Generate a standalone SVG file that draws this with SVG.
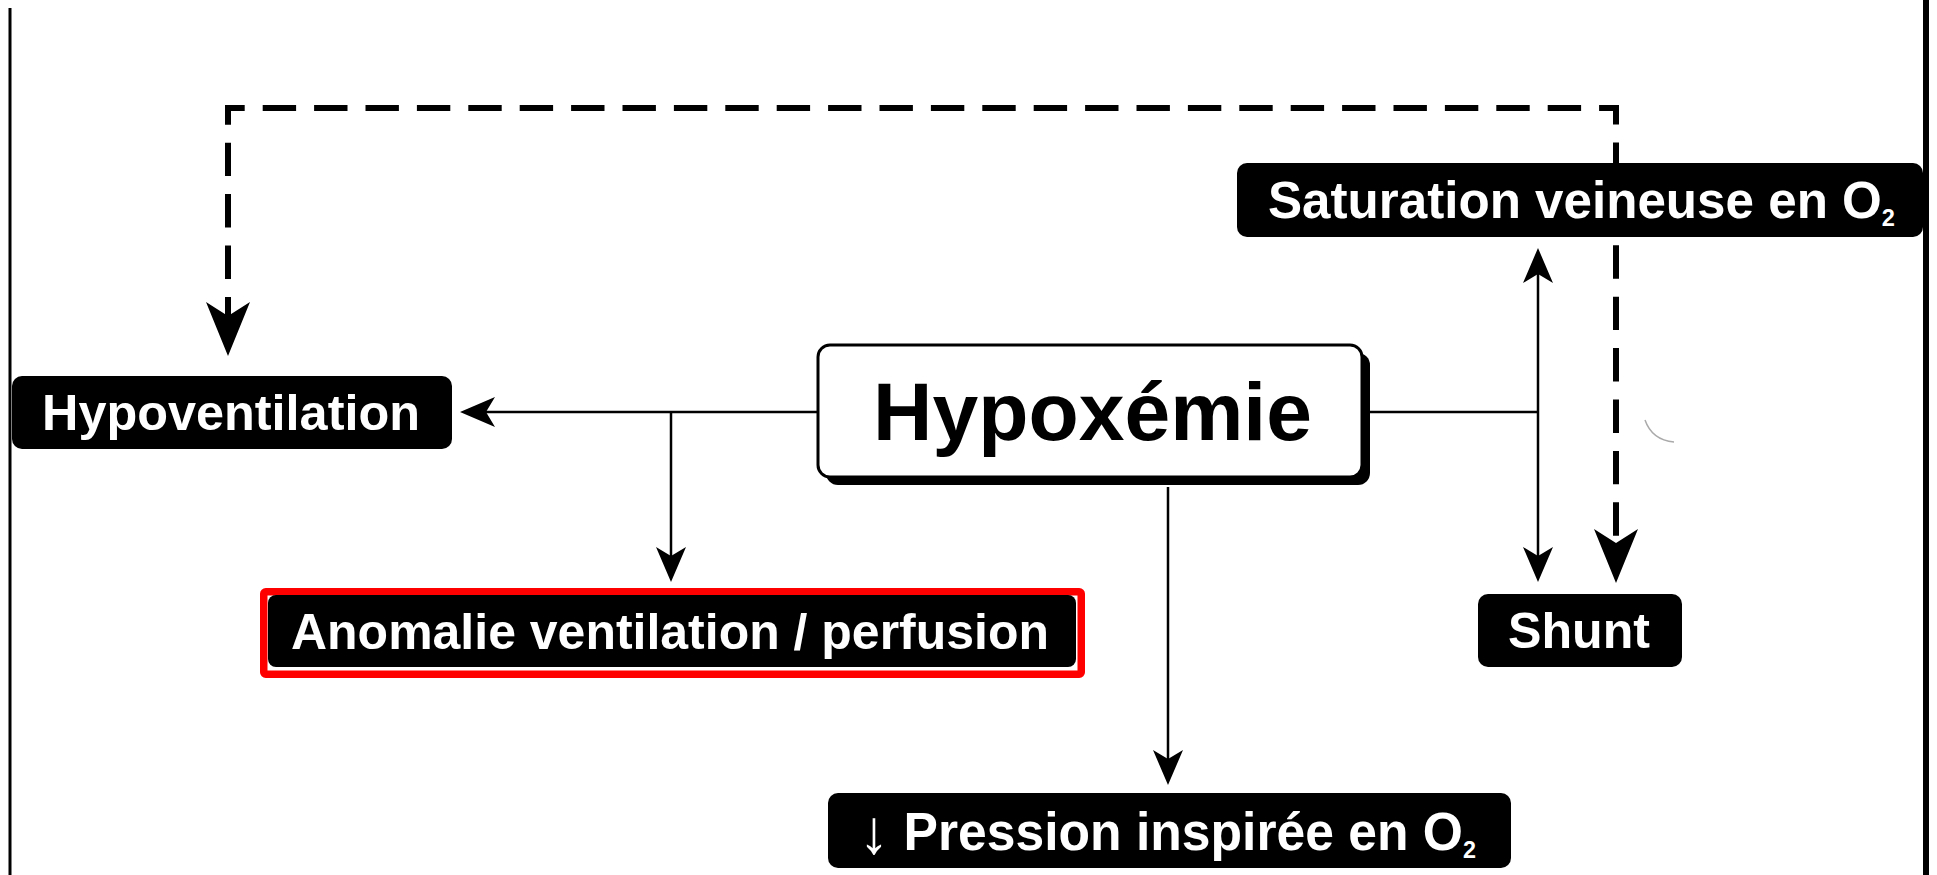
<svg xmlns="http://www.w3.org/2000/svg" width="1937" height="875" viewBox="0 0 1937 875">
  <style>
    .lbl { font-family: "Liberation Sans", Arial, sans-serif; font-weight: bold; fill: #fff; }
    .dark { fill: #000; }
    .wire { fill: none; stroke: #000; stroke-width: 2.5; }
    .dash { fill: none; stroke: #000; stroke-width: 6; stroke-dasharray: 33.4 18; stroke-dashoffset: 14.3; }
    .tag { fill: #000; }
    .sub { font-size: 24px; }
  </style>
  <defs>
    <marker id="arrow" markerUnits="userSpaceOnUse" viewBox="-36 -16 37 32" refX="-26" refY="0" markerWidth="37" markerHeight="32" orient="auto-start-reverse">
      <path d="M0,0 L-35,-15 L-26,0 L-35,15 Z" fill="#000"/>
    </marker>
    <marker id="arrowBig" markerUnits="userSpaceOnUse" viewBox="-56 -24 57 48" refX="-40" refY="0" markerWidth="57" markerHeight="48" orient="auto-start-reverse">
      <path d="M0,0 L-54,-22 L-40,0 L-54,22 Z" fill="#000"/>
    </marker>
  </defs>

  <rect width="1937" height="875" fill="#fff"/>

  <!-- side rules -->
  <line x1="10" y1="8" x2="10" y2="875" stroke="#000" stroke-width="3"/>
  <line x1="1926" y1="0" x2="1926" y2="875" stroke="#000" stroke-width="6"/>

  <g id="connectors">
    <path class="dash" d="M228,316 V108 H1616 V543" marker-start="url(#arrowBig)" marker-end="url(#arrowBig)"/>
    <path class="wire" d="M818,412 H486" marker-end="url(#arrow)"/>
    <path class="wire" d="M671,412 V556" marker-end="url(#arrow)"/>
    <path class="wire" d="M1168,487 V759" marker-end="url(#arrow)"/>
    <path class="wire" d="M1370,412 H1538"/>
    <path class="wire" d="M1538,274 V556" marker-start="url(#arrow)" marker-end="url(#arrow)"/>
    <path d="M1645,420 Q1652,440 1674,442" fill="none" stroke="#aaa" stroke-width="1.5"/>
  </g>

  <g id="hypoxemie">
    <rect x="826" y="353" width="544" height="132" rx="12" fill="#000"/>
    <rect x="818" y="345" width="544" height="132" rx="12" fill="#fff" stroke="#000" stroke-width="3"/>
    <text class="lbl dark" x="873" y="440" font-size="82" textLength="439" lengthAdjust="spacingAndGlyphs">Hypoxémie</text>
  </g>

  <g id="hypoventilation">
    <rect class="tag" x="12" y="376" width="440" height="73" rx="10"/>
    <text class="lbl" x="42" y="430" font-size="50" textLength="378" lengthAdjust="spacingAndGlyphs">Hypoventilation</text>
  </g>

  <g id="anomalie">
    <rect x="263.75" y="591.75" width="817.5" height="82.5" rx="2" fill="none" stroke="#ff0000" stroke-width="7.5"/>
    <rect class="tag" x="268" y="595" width="808" height="72" rx="8"/>
    <text class="lbl" x="291" y="649" font-size="50" textLength="758" lengthAdjust="spacingAndGlyphs">Anomalie ventilation / perfusion</text>
  </g>

  <g id="pression">
    <rect class="tag" x="828" y="793" width="683" height="75" rx="10"/>
    <text class="lbl" x="859" y="850" font-size="53" textLength="617" lengthAdjust="spacingAndGlyphs"><tspan font-size="62" dy="3" style="font-weight:normal">↓</tspan><tspan dy="-3"> Pression inspirée en O</tspan><tspan class="sub" dy="8">2</tspan></text>
  </g>

  <g id="saturation">
    <rect class="tag" x="1237" y="163" width="686" height="74" rx="10"/>
    <text class="lbl" x="1268" y="218" font-size="52" textLength="627" lengthAdjust="spacingAndGlyphs">Saturation veineuse en O<tspan class="sub" dy="8">2</tspan></text>
  </g>

  <g id="shunt">
    <rect class="tag" x="1478" y="594" width="204" height="73" rx="10"/>
    <text class="lbl" x="1508" y="648" font-size="50" textLength="142" lengthAdjust="spacingAndGlyphs">Shunt</text>
  </g>
</svg>
